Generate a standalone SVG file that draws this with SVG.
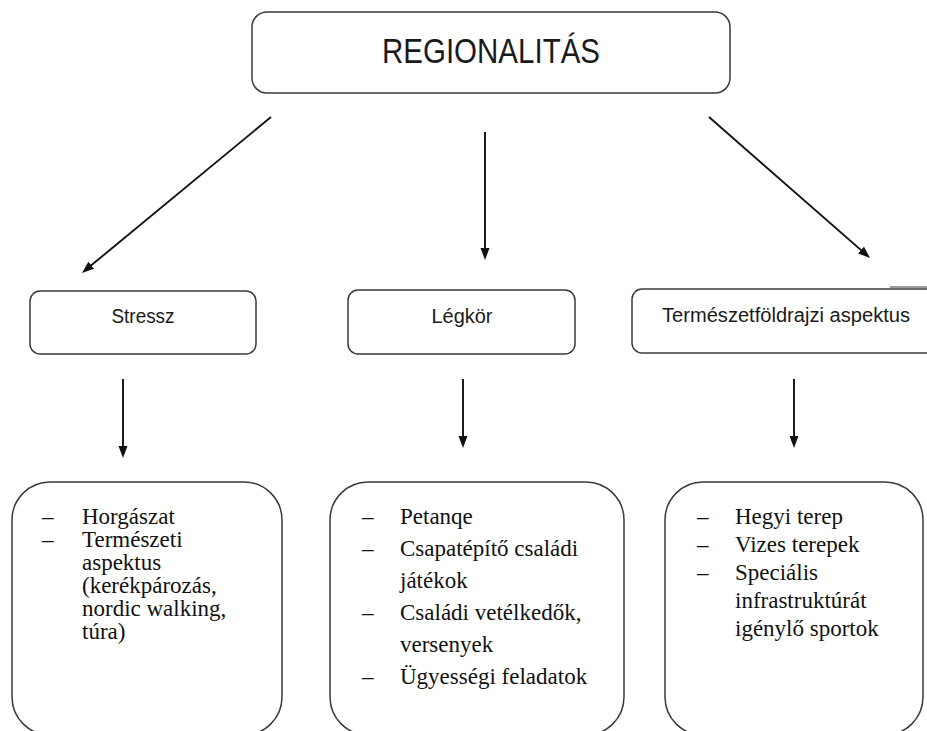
<svg xmlns="http://www.w3.org/2000/svg" width="927" height="731" viewBox="0 0 927 731">
<style>
.box{fill:#fff;stroke:#3a3a3a;stroke-width:1.5}
.sans{font-family:"Liberation Sans",Arial,sans-serif;fill:#1a1a1a}
.serif{font-family:"Liberation Serif","Times New Roman",serif;font-size:23px;fill:#111}
.conn{stroke:#111;stroke-width:1.9;fill:none;marker-end:url(#ah)}
</style>
<defs>
<marker id="ah" markerUnits="userSpaceOnUse" markerWidth="14" markerHeight="10" refX="2" refY="4.5" orient="auto">
<path d="M0,0 L12,4.5 L0,9 z" fill="#111"/>
</marker>
</defs>
<rect width="927" height="731" fill="#fff"/>
<g id="regionalitas">
<rect class="box" x="252" y="12" width="478" height="81" rx="15"/>
<text class="sans" x="491" y="63" font-size="35" text-anchor="middle" textLength="218" lengthAdjust="spacingAndGlyphs">REGIONALITÁS</text>
</g>
<g id="stressz">
<rect class="box" x="30" y="291" width="226" height="63" rx="10"/>
<text class="sans" x="143" y="323" font-size="19.5" text-anchor="middle" textLength="63" lengthAdjust="spacingAndGlyphs">Stressz</text>
</g>
<g id="legkor">
<rect class="box" x="348" y="290" width="227" height="64" rx="10"/>
<text class="sans" x="462" y="323" font-size="19.5" text-anchor="middle" textLength="61" lengthAdjust="spacingAndGlyphs">Légkör</text>
</g>
<g id="termeszetfoldrajzi">
<rect class="box" x="632" y="289" width="310" height="64" rx="10"/>
<line x1="890" y1="287" x2="927" y2="287" stroke="#999" stroke-width="2"/>
<text class="sans" x="662" y="322" font-size="19.5" textLength="248" lengthAdjust="spacingAndGlyphs">Természetföldrajzi aspektus</text>
</g>
<g id="connectors">
<line class="conn" x1="271" y1="117" x2="89.7" y2="266.6"/>
<line class="conn" x1="485" y1="132" x2="485" y2="250"/>
<line class="conn" x1="709" y1="117" x2="862.5" y2="251.4"/>
<line class="conn" x1="123" y1="379" x2="123" y2="448"/>
<line class="conn" x1="463" y1="379" x2="463" y2="438"/>
<line class="conn" x1="794" y1="379" x2="794" y2="438"/>
</g>
<g id="list-stressz">
<rect class="box" x="12" y="482" width="270" height="253" rx="38"/>
<g class="serif">
<text x="42" y="524">–</text><text x="82" y="524">Horgászat</text>
<text x="42" y="547">–</text><text x="82" y="547">Természeti</text>
<text x="82" y="570">aspektus</text>
<text x="82" y="593">(kerékpározás,</text>
<text x="82" y="616">nordic walking,</text>
<text x="82" y="639">túra)</text>
</g>
</g>
<g id="list-legkor">
<rect class="box" x="330" y="482" width="294" height="253" rx="38"/>
<g class="serif">
<text x="362" y="524">–</text><text x="400" y="524">Petanqe</text>
<text x="362" y="556">–</text><text x="400" y="556">Csapatépítő családi</text>
<text x="400" y="588">játékok</text>
<text x="362" y="620">–</text><text x="400" y="620">Családi vetélkedők,</text>
<text x="400" y="652">versenyek</text>
<text x="362" y="684">–</text><text x="400" y="684">Ügyességi feladatok</text>
</g>
</g>
<g id="list-termeszet">
<rect class="box" x="665" y="482" width="258" height="253" rx="38"/>
<g class="serif">
<text x="697" y="524">–</text><text x="735" y="524">Hegyi terep</text>
<text x="697" y="552">–</text><text x="735" y="552">Vizes terepek</text>
<text x="697" y="580">–</text><text x="735" y="580">Speciális</text>
<text x="735" y="608">infrastruktúrát</text>
<text x="735" y="636">igénylő sportok</text>
</g>
</g>
</svg>
